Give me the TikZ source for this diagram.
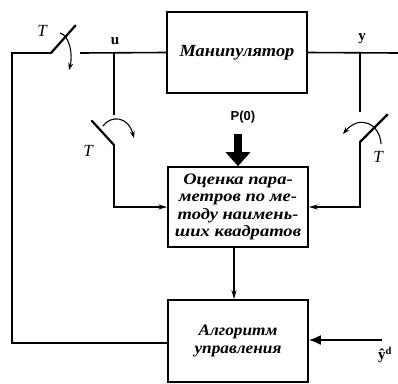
\documentclass[tikz,border=0pt]{standalone}
\usepackage{fontspec}
\setmainfont{Liberation Serif}
\newfontfamily\lblfont{Liberation Sans}
\newfontfamily\wideit[FakeStretch=1.16]{Liberation Serif}
\newfontfamily\midit[FakeStretch=1.08]{Liberation Serif}
\usetikzlibrary{arrows.meta,calc}
\tikzset{
  blk/.style={draw,line width=1.6pt,rectangle,inner sep=0pt},
  wire/.style={line width=1.6pt},
  blade/.style={line width=2.2pt,line cap=round},
  turn/.style={line width=1.1pt,-{Stealth[length=7pt,width=5pt]}},
  sig/.style={wire,-{Stealth[length=9pt,width=5pt]}},
  tl/.style={font=\fontsize{17}{17}\selectfont\itshape},
}
\begin{document}
\begin{tikzpicture}[x=1pt,y=-1pt]
\useasboundingbox (0,0) rectangle (398,383);
% blocks
\node[blk,minimum width=140pt,minimum height=81pt] (man) at (237,52.5) {};
\node[font=\midit\fontsize{17}{17}\selectfont\itshape\bfseries] (mt) at (man.center) {Манипулятор};
\node[blk,minimum width=140pt,minimum height=80pt] (est) at (238,207) {};
\node[font=\wideit\fontsize{16}{17.5}\selectfont\itshape\bfseries,align=center] (et) at (est.center) {Оценка пара-\\метров по ме-\\тоду наимень-\\ших квадратов};
\node[blk,minimum width=140pt,minimum height=82pt] (alg) at (238,341) {};
\node[font=\midit\fontsize{16}{17.5}\selectfont\itshape\bfseries,align=center] (at) at (alg.center) {Алгоритм\\управления};
% coordinates
\coordinate (cl) at (12,53);
\coordinate (sL) at (51,53);
\coordinate (sLe) at (75,26);
\coordinate (gL) at (80,53);
\coordinate (ju) at (114,53);
\coordinate (ub) at (114,115);
\coordinate (uP) at (114,145);
\coordinate (uPe) at (92,121);
\coordinate (jy) at (360,53);
\coordinate (yr) at (398,53);
\coordinate (yb) at (360,112);
\coordinate (yP) at (360,142);
\coordinate (yPe) at (387,115);
\coordinate (fb) at (12,343);
\coordinate (ydS) at (382,340);
% top wires
\draw[wire] (gL) -- (man.west);
\draw[wire] (man.east) -- (yr);
\draw[wire] (ju) -- (ub);
\draw[wire] (jy) -- (yb);
% switches
\draw[blade] (sL) -- (sLe);
\fill (sLe) circle (1.6pt);
\draw[blade] (uP) -- (uPe);
\draw[blade] (yP) -- (yPe);
\fill (yPe) circle (1.6pt);
% turn arrows
\draw[turn] (60,33) .. controls (70,36) and (73,55) .. (69,70);
\draw[turn] (103,126) .. controls (111,115) and (128,116) .. (134,138);
\draw[turn] (381,144) .. controls (380,124) and (360,114) .. (343,134);
% to estimator
\draw[sig] (uP) |- (est.west);
\draw[sig] (yP) |- (est.east);
\draw[sig] ([xshift=-4pt]est.south) -- ([xshift=-4pt]alg.north);
% feedback
\draw[wire] (alg.west |- fb) -- (fb) -- (cl) -- (sL);
% P(0)
\node[font=\lblfont\bfseries\fontsize{13}{13}\selectfont] (p0) at (243,117) {P(0)};
\draw[line width=8pt,-{Triangle[length=14pt 0,width=24pt 0]}] (238,134) -- (est.north);
% yd input
\draw[line width=2pt,-{Latex[length=12pt 0,width=10pt 0]}] (ydS) -- (alg.east |- ydS);
\node[font=\bfseries\fontsize{15}{15}\selectfont,inner sep=1pt] (yd) at (385,355) {ŷ\textsuperscript{d}};
% labels
\node[font=\bfseries\fontsize{15}{15}\selectfont] (ul) at (115,41) {u};
\node[font=\bfseries\fontsize{15}{15}\selectfont] (yl) at (362,39) {y};
\node[tl] (t1) at (42,31) {T};
\node[tl] (t2) at (88,151) {T};
\node[tl] (t3) at (378,157) {T};
\end{tikzpicture}
\end{document}
